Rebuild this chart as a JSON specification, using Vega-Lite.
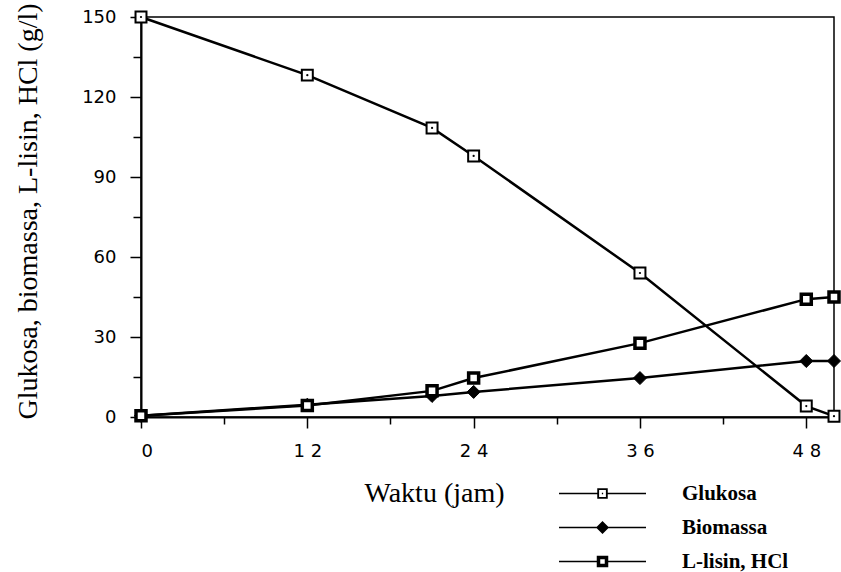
{
  "$schema": "https://vega.github.io/schema/vega-lite/v6.json",
  "width": 693,
  "height": 400,
  "autosize": "none",
  "padding": {"left": 141, "top": 17, "right": 7, "bottom": 155},
  "background": "white",
  "config": {
    "view": {"stroke": "black", "strokeWidth": 1.5},
    "axis": {
      "grid": false,
      "domainColor": "black",
      "domainWidth": 2,
      "tickColor": "black",
      "tickWidth": 1.5,
      "labelColor": "black",
      "titleColor": "black",
      "labelFont": "DejaVu Sans",
      "labelFontSize": 18,
      "titleFont": "Liberation Serif",
      "titleFontSize": 28,
      "titleFontWeight": "normal"
    }
  },
  "data": {
    "values": [
      {"t": 0, "series": "Glukosa", "v": 150},
      {"t": 12, "series": "Glukosa", "v": 128.2},
      {"t": 21, "series": "Glukosa", "v": 108.4},
      {"t": 24, "series": "Glukosa", "v": 97.9},
      {"t": 36, "series": "Glukosa", "v": 54},
      {"t": 48, "series": "Glukosa", "v": 4.1},
      {"t": 50, "series": "Glukosa", "v": 0.3},
      {"t": 0, "series": "Biomassa", "v": 0.5},
      {"t": 12, "series": "Biomassa", "v": 4.6},
      {"t": 21, "series": "Biomassa", "v": 7.9},
      {"t": 24, "series": "Biomassa", "v": 9.4},
      {"t": 36, "series": "Biomassa", "v": 14.6},
      {"t": 48, "series": "Biomassa", "v": 21},
      {"t": 50, "series": "Biomassa", "v": 21},
      {"t": 0, "series": "L-lisin, HCl", "v": 0.5},
      {"t": 12, "series": "L-lisin, HCl", "v": 4.3},
      {"t": 21, "series": "L-lisin, HCl", "v": 9.8},
      {"t": 24, "series": "L-lisin, HCl", "v": 14.6},
      {"t": 36, "series": "L-lisin, HCl", "v": 27.7},
      {"t": 48, "series": "L-lisin, HCl", "v": 44.2},
      {"t": 50, "series": "L-lisin, HCl", "v": 45}
    ]
  },
  "encoding": {
    "x": {
      "field": "t",
      "type": "quantitative",
      "scale": {"domain": [0, 50], "nice": false},
      "axis": {
        "values": [0, 6, 12, 18, 24, 30, 36, 42, 48],
        "tickSize": {"condition": {"test": "datum.value % 12 === 0", "value": 11}, "value": 7},
        "labelPadding": 14,
        "labelExpr": "datum.value % 12 !== 0 ? '' : (datum.value < 10 ? datum.label : substring(datum.label, 0, 1) + ' ' + substring(datum.label, 1))",
        "title": "Waktu (jam)",
        "titleX": 293,
        "titleY": 76,
        "titleAlign": "center",
        "titleBaseline": "middle"
      }
    },
    "y": {
      "field": "v",
      "type": "quantitative",
      "scale": {"domain": [0, 150], "nice": false},
      "axis": {
        "values": [0, 15, 30, 45, 60, 75, 90, 105, 120, 135, 150],
        "tickSize": {"condition": {"test": "datum.value % 30 === 0", "value": 11}, "value": 8},
        "labelPadding": 14,
        "labelExpr": "datum.value % 30 === 0 ? datum.label : ''",
        "title": "Glukosa, biomassa, L-lisin, HCl (g/l)",
        "titleX": -113,
        "titleY": 194,
        "titleAngle": -90,
        "titleAlign": "center",
        "titleBaseline": "middle"
      }
    }
  },
  "layer": [
    {
      "mark": {"type": "line", "color": "black", "strokeWidth": 2.5},
      "encoding": {"detail": {"field": "series", "type": "nominal"}}
    },
    {
      "transform": [{"filter": "datum.series === 'Glukosa'"}],
      "mark": {"type": "point", "shape": "square", "size": 120, "fill": "white", "stroke": "black", "strokeWidth": 2, "opacity": 1, "filled": false}
    },
    {
      "transform": [{"filter": "datum.series === 'Biomassa'"}],
      "mark": {"type": "point", "shape": "diamond", "size": 170, "fill": "black", "stroke": "black", "strokeWidth": 1, "opacity": 1, "filled": true}
    },
    {
      "transform": [{"filter": "datum.series === 'L-lisin, HCl'"}],
      "mark": {"type": "point", "shape": "square", "size": 100, "fill": "white", "stroke": "black", "strokeWidth": 3.5, "opacity": 1, "filled": false}
    },
    {
      "transform": [{"filter": "datum.series !== 'Biomassa'"}],
      "mark": {"type": "point", "shape": "circle", "size": 5, "filled": true, "opacity": 1},
      "encoding": {
        "color": {"condition": {"test": "datum.series === 'Glukosa'", "value": "black"}, "value": "white"}
      }
    },
    {
      "transform": [{"filter": "datum.t < 0"}],
      "mark": {"type": "point", "filled": true, "color": "black", "opacity": 1, "size": 100},
      "encoding": {
        "shape": {
          "field": "series",
          "type": "nominal",
          "scale": {
            "domain": ["Glukosa", "Biomassa", "L-lisin, HCl"],
            "range": [
              "M-1.05,-1.05H1.05V1.05H-1.05ZM-0.68,-0.68V0.68H0.68V-0.68ZM-0.13,-0.13H0.13V0.13H-0.13ZM-8.7,-0.14H-1.05V0.14H-8.7ZM1.05,-0.14H8.7V0.14H1.05Z",
              "M0,-1.3L1.3,0L0,1.3L-1.3,0ZM-8.7,-0.14H8.7V0.14H-8.7Z",
              "M-1.15,-1.15H1.15V1.15H-1.15ZM-0.45,-0.45V0.45H0.45V-0.45ZM-8.7,-0.14H-1.15V0.14H-8.7ZM1.15,-0.14H8.7V0.14H1.15Z"
            ]
          },
          "legend": {
            "orient": "none",
            "legendX": 451,
            "legendY": 466,
            "title": null,
            "padding": 0,
            "symbolSize": 100,
            "symbolOpacity": 1,
            "symbolFillColor": "black",
            "symbolStrokeColor": "black",
            "symbolStrokeWidth": 0,
            "labelFont": "Liberation Serif",
            "labelFontSize": 21,
            "labelFontWeight": "bold",
            "labelColor": "black",
            "labelOffset": 69,
            "rowPadding": 12
          }
        }
      }
    }
  ]
}
